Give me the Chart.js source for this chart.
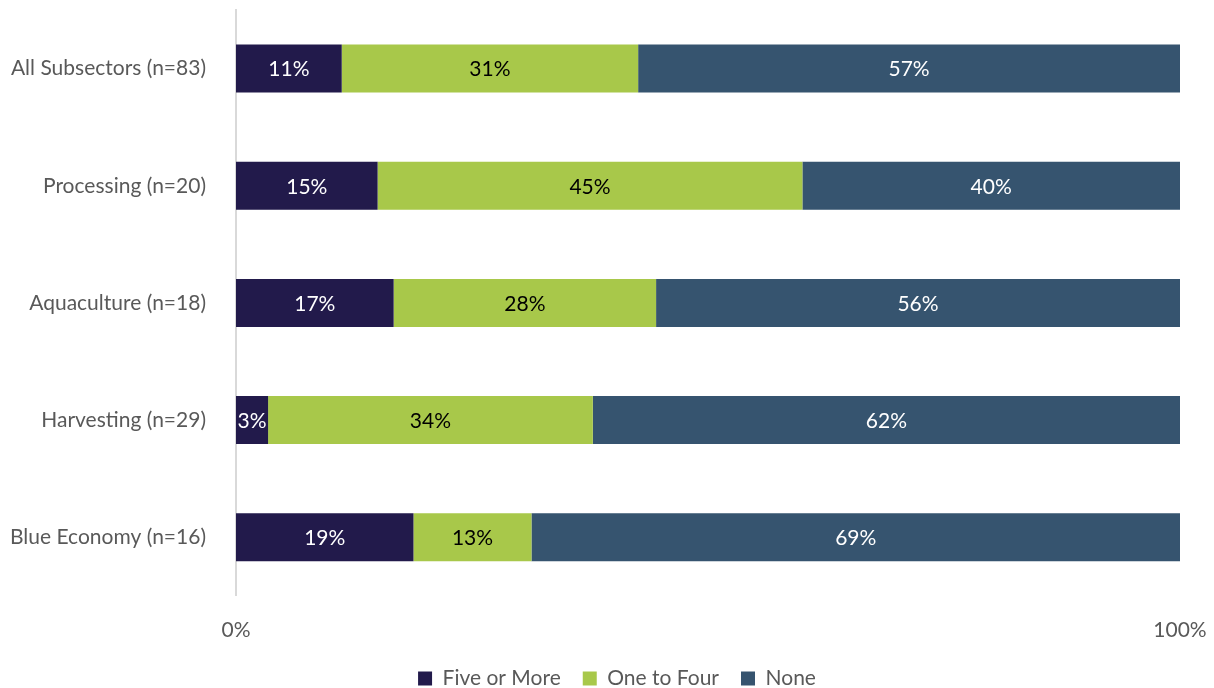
<!DOCTYPE html>
<html>
<head>
<meta charset="utf-8">
<script src="https://cdn.jsdelivr.net/npm/chart.js@4/dist/chart.umd.min.js"></script>
<style>
  html, body { margin: 0; padding: 0; background: #ffffff; }
  #wrap { width: 1214px; height: 688px; }
</style>
</head>
<body>
<div id="wrap"><canvas id="chart" width="1214" height="688"></canvas></div>
<script>
// subsectors, top to bottom
const categories = [
  "All Subsectors (n=83)",
  "Processing (n=20)",
  "Aquaculture (n=18)",
  "Harvesting (n=29)",
  "Blue Economy (n=16)"
]

// share of respondents (%)
const fiveOrMore = [11.2, 15.0, 16.7, 3.4, 18.8]
const oneToFour  = [31.4, 45.0, 27.8, 34.4, 12.5]
const none       = [57.4, 40.0, 55.5, 62.2, 68.7]

const xTicks = [0, 100]

const seriesNames  = ["Five or More", "One to Four", "None"]
const seriesColors = ["#221a4b", "#a8c84a", "#36546f"]
const labelColors  = ["#ffffff", "#000000", "#ffffff"]

const fontFamily = "Lato, 'Open Sans', sans-serif"
const fontSize = 21

// écrit le pourcentage arrondi au centre de chaque segment
const barLabels = {
  id: "barLabels",
  afterDatasetsDraw(chart) {
    const { ctx } = chart
    ctx.save()
    ctx.font = fontSize + "px " + fontFamily
    ctx.textAlign = "center"
    ctx.textBaseline = "middle"
    chart.data.datasets.forEach((ds, i) => {
      const meta = chart.getDatasetMeta(i)
      meta.data.forEach((bar, j) => {
        const { x, base, y } = bar.getProps(["x", "base", "y"], true)
        ctx.fillStyle = labelColors[i]
        ctx.fillText(Math.round(ds.data[j]) + "%", (x + base) / 2, y + 1)
      })
    })
    ctx.restore()
  }
}

// décale la légende vers la droite, centrée sous la zone des barres
const legendShift = {
  id: "legendShift",
  afterLayout(chart) {
    chart.legend.left += 27
    chart.legend.right += 27
  }
}

new Chart(document.getElementById("chart"), {
  type: "bar",
  data: {
    labels: categories,
    datasets: [fiveOrMore, oneToFour, none].map((values, i) => ({
      label: seriesNames[i],
      data: values,
      backgroundColor: seriesColors[i],
      borderWidth: 0,
      categoryPercentage: 0.41,
      barPercentage: 1
    }))
  },
  options: {
    indexAxis: "y",
    responsive: false,
    animation: false,
    layout: { padding: { top: 10, right: 34, left: 0, bottom: -11 } },
    scales: {
      x: {
        stacked: true,
        min: 0,
        max: 100,
        afterBuildTicks(scale) {
          scale.ticks = xTicks.map(v => ({ value: v }))
        },
        afterFit(scale) {
          scale.paddingLeft = 0
          scale.paddingRight = 0
          // rapproche la légende des graduations
          scale.height -= 11
        },
        grid: { display: false },
        border: { display: false },
        ticks: {
          padding: 14,
          color: "#595959",
          font: { family: fontFamily, size: fontSize },
          callback: v => v + "%"
        }
      },
      y: {
        stacked: true,
        afterFit(scale) {
          scale.width = 236
          scale.paddingTop = 0
          scale.paddingBottom = 0
        },
        grid: { display: false },
        border: { display: true, color: "#d9d9d9", width: 2 },
        ticks: {
          padding: 22,
          color: "#595959",
          font: { family: fontFamily, size: fontSize }
        }
      }
    },
    plugins: {
      legend: {
        position: "bottom",
        labels: {
          boxWidth: 14,
          boxHeight: 14,
          padding: 22,
          color: "#595959",
          font: { family: fontFamily, size: fontSize }
        }
      },
      tooltip: { enabled: false }
    }
  },
  plugins: [barLabels, legendShift]
})
</script>
</body>
</html>
